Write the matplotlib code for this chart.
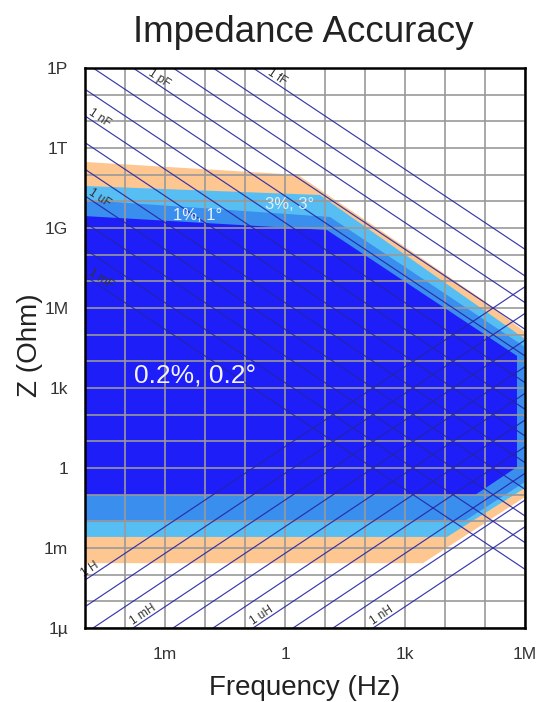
import numpy as np
import matplotlib
matplotlib.use("Agg")
import matplotlib.pyplot as plt

plt.rcParams['font.family'] = ['Liberation Sans', 'DejaVu Sans']

# ---------------- data ----------------
title = "Impedance Accuracy"
x_label = "Frequency (Hz)"
y_label = "Z (Ohm)"

freq_ticks = [1e-3, 1, 1e3, 1e6]
freq_tick_labels = ['1m', '1', '1k', '1M']
z_ticks = [1e15, 1e12, 1e9, 1e6, 1e3, 1, 1e-3, 1e-6]
z_tick_labels = ['1P', '1T', '1G', '1M', '1k', '1', '1m', '1µ']
freq_decades = [1e-5, 1e-4, 1e-3, 1e-2, 1e-1, 1, 1e1, 1e2, 1e3, 1e4, 1e5, 1e6]
z_decades = [1e-6, 1e-5, 1e-4, 1e-3, 1e-2, 1e-1, 1, 1e1, 1e2, 1e3, 1e4, 1e5,
             1e6, 1e7, 1e8, 1e9, 1e10, 1e11, 1e12, 1e13, 1e14, 1e15]

# accuracy regions (frequency Hz, impedance Ohm)
orange_f = [1e-5, 2.1, 237, 8.9e4, 1e6, 1e6, 2.8e3, 1e-5]
orange_z = [3.0e11, 9.8e10, 8.4e8, 2.0e6, 1.26e5, 0.082, 2.7e-4, 2.7e-4]
light_f = [1e-5, 7.5, 1e6, 1e6, 1.12e4, 1e-5]
light_z = [3.76e10, 1.73e10, 6.9e4, 0.178, 2.6e-3, 2.6e-3]
mid_f = [1e-5, 13.3, 1e6, 1e6, 2.8e4, 1e-5]
mid_z = [1.12e10, 2.6e9, 3.45e4, 0.30, 9.4e-3, 9.4e-3]
dark_f = [1e-5, 11.2, 6.3e5, 6.3e5, 5.6e4, 1e-5]
dark_z = [2.8e9, 8.4e8, 1.6e4, 1.09, 0.097, 0.097]

region_labels = ['3%, 3°', '1%, 1°', '0.2%, 0.2°']
region_label_f = [1.33, 6.7e-3, 1.7e-4]
region_label_z = [7.5e9, 2.9e9, 2.8e3]

# reference lines: capacitors and inductors
cap_values = [1e-15, 1e-14, 1e-13, 1e-12, 1e-11, 1e-10, 1e-9, 1e-8, 1e-7,
              1e-6, 1e-5, 1e-4, 1e-3]
ind_values = [1e-9, 1e-8, 1e-7, 1e-6, 1e-5, 1e-4, 1e-3, 1e-2, 1e-1, 1]
cap_label_text = ['1 fF', '1 pF', '1 nF', '1 uF', '1 mF']
cap_label_C = [1e-15, 1e-12, 1e-9, 1e-6, 1e-3]
cap_label_f = [0.33, 3.4e-4, 1.05e-5, 1.05e-5, 1.05e-5]
ind_label_text = ['1 H', '1 mH', '1 uH', '1 nH']
ind_label_L = [1, 1e-3, 1e-6, 1e-9]
ind_label_f = [1.05e-5, 1.7e-4, 0.17, 170]

# ---------------- figure ----------------
W, H = 537, 702
fig = plt.figure(figsize=(W / 100, H / 100), dpi=100)
ax = fig.add_axes([85 / W, 1 - 628 / H, 440 / W, 560 / H])
ax.set_xscale('log')
ax.set_yscale('log')
fmin, fmax = 1e-5, 1e6
zmin, zmax = 1e-6, 1e15
ax.set_xlim(fmin, fmax)
ax.set_ylim(zmin, zmax)

ax.fill(orange_f, orange_z, color='#FEC690', lw=0, zorder=1)
ax.fill(light_f, light_z, color='#57BEF4', lw=0, zorder=1.1)
ax.fill(mid_f, mid_z, color='#3A8EEE', lw=0, zorder=1.2)
ax.fill(dark_f, dark_z, color='#1E1EF8', lw=0, zorder=1.3)

# grid
for fd in freq_decades:
    ax.axvline(fd, color='#999999', lw=1.2, zorder=2)
for zd in z_decades:
    ax.axhline(zd, color='#999999', lw=1.2, zorder=2)

# reference lines
f_line = np.logspace(-5, 6, 200)
for C in cap_values:
    ax.plot(f_line, 1 / (2 * np.pi * f_line * C), color='#2424A6', lw=0.85,
            alpha=0.9, zorder=3)
for L in ind_values:
    ax.plot(f_line, 2 * np.pi * f_line * L, color='#2424A6', lw=0.85,
            alpha=0.9, zorder=3)

bbox = ax.get_window_extent()
ang = np.degrees(np.arctan((bbox.height / 21) / (bbox.width / 11)))

for t, C, f in zip(cap_label_text, cap_label_C, cap_label_f):
    ax.text(f, 1 / (2 * np.pi * f * C), t, rotation=-ang, rotation_mode='anchor',
            ha='left', va='bottom', fontsize=8.5, color='#333333', zorder=4)
for t, L, f in zip(ind_label_text, ind_label_L, ind_label_f):
    ax.text(f, 2 * np.pi * f * L, t, rotation=ang, rotation_mode='anchor',
            ha='left', va='bottom', fontsize=8.5, color='#333333', zorder=4)

# region labels
ax.text(region_label_f[0], region_label_z[0], region_labels[0], fontsize=12,
        color='#DDEFFF', ha='center', va='center', zorder=5)
ax.text(region_label_f[1], region_label_z[1], region_labels[1], fontsize=12,
        color='#E6F2FF', ha='center', va='center', zorder=5)
ax.text(region_label_f[2], region_label_z[2], region_labels[2], fontsize=19,
        color='#F4F4FF', ha='left', va='center', zorder=5)

# ticks
ax.set_xticks(freq_ticks)
ax.set_xticklabels(freq_tick_labels)
ax.set_yticks(z_ticks)
ax.set_yticklabels(z_tick_labels)
ax.minorticks_off()
ax.tick_params(length=0, labelsize=12.5, colors='#333333', pad=12)
ax.tick_params(axis='x', pad=14)

for s in ax.spines.values():
    s.set_linewidth(1.8)
    s.set_color('black')
    s.set_zorder(6)

fig.text(303 / W, 1 - 32 / H, title, fontsize=26.5, ha='center', va='center',
         color='#222222')
fig.text(305 / W, 1 - 688 / H, x_label, fontsize=20, ha='center', va='center',
         color='#222222')
fig.text(30 / W, 1 - 345 / H, y_label, fontsize=20, ha='center', va='center',
         rotation=90, color='#222222')

fig.savefig('out.png', dpi=100)
